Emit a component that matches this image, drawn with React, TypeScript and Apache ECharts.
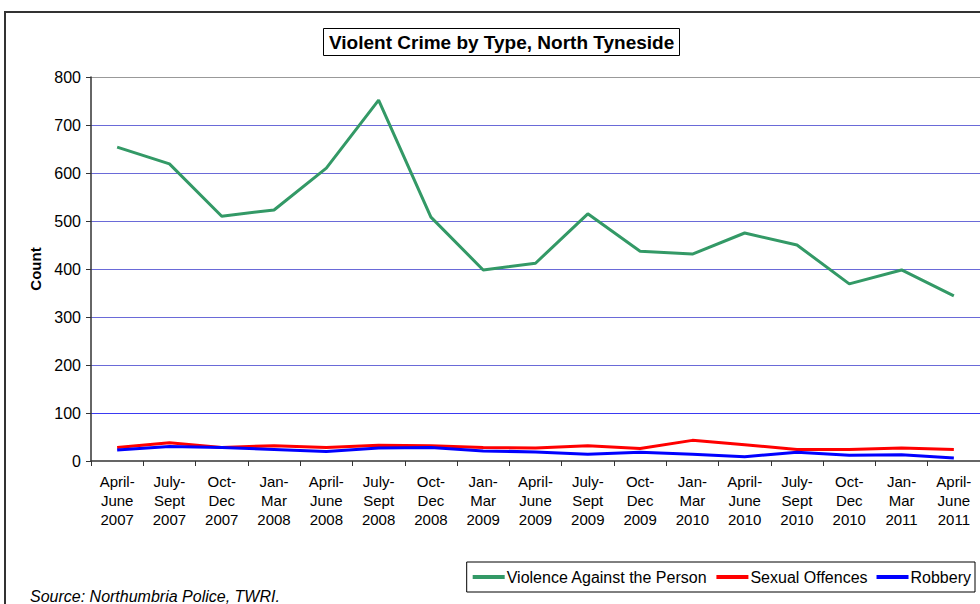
import React, { useEffect, useRef } from "react";
import * as echarts from "echarts";

const categories = [
  "April-\nJune\n2007", "July-\nSept\n2007", "Oct-\nDec\n2007", "Jan-\nMar\n2008",
  "April-\nJune\n2008", "July-\nSept\n2008", "Oct-\nDec\n2008", "Jan-\nMar\n2009",
  "April-\nJune\n2009", "July-\nSept\n2009", "Oct-\nDec\n2009", "Jan-\nMar\n2010",
  "April-\nJune\n2010", "July-\nSept\n2010", "Oct-\nDec\n2010", "Jan-\nMar\n2011",
  "April-\nJune\n2011",
];
const violence = [654, 619, 510, 523, 610, 752, 508, 398, 412, 515, 437, 431, 475, 450, 369, 398, 344];
const sexual = [28, 38, 28, 32, 28, 33, 32, 28, 27, 32, 26, 43, 34, 24, 24, 27, 24];
const robbery = [23, 30, 28, 24, 20, 27, 28, 21, 19, 14, 18, 14, 9, 18, 12, 13, 6];

const FONT = "'Liberation Sans', Arial, Helvetica, sans-serif";

export default function App() {
  const ref = useRef<HTMLDivElement>(null);
  useEffect(() => {
    const chart = echarts.init(ref.current!, null, { renderer: "svg" });
    chart.setOption({
      animation: false,
      backgroundColor: "#ffffff",
      textStyle: { fontFamily: FONT },
      title: {
        text: "Violent Crime by Type, North Tyneside",
        left: 323,
        top: 28,
        borderColor: "#000",
        borderWidth: 1,
        padding: [5, 6, 4, 6],
        textStyle: { fontFamily: FONT, fontSize: 19, fontWeight: "bold", color: "#000" },
      },
      graphic: [
        {
          type: "rect",
          shape: { x: 5, y: 12, width: 1100, height: 700 },
          style: { fill: "none", stroke: "#333", lineWidth: 2 },
          silent: true,
        },
        {
          type: "text",
          left: 30,
          top: 588,
          style: {
            text: "Source: Northumbria Police, TWRI.",
            font: "italic 16px " + FONT,
            fill: "#000",
          },
        },
      ],
      legend: {
        right: 5,
        top: 562,
        padding: [7, 4, 7, 6],
        borderColor: "#000",
        borderWidth: 1,
        itemWidth: 32,
        itemHeight: 4,
        itemGap: 9,
        icon: "rect",
        textStyle: { fontFamily: FONT, fontSize: 16, color: "#000", padding: [0, 0, 0, -3] },
        data: ["Violence Against the Person", "Sexual Offences", "Robbery"],
      },
      grid: { left: 91, top: 77, width: 890, height: 384 },
      xAxis: {
        type: "category",
        data: categories,
        boundaryGap: true,
        axisLine: { lineStyle: { color: "#333", width: 1.5 } },
        axisTick: { show: true, length: 5, lineStyle: { color: "#333" }, alignWithLabel: false },
        axisLabel: { fontFamily: FONT, fontSize: 15, color: "#000", lineHeight: 19, margin: 11, interval: 0 },
      },
      yAxis: {
        type: "value",
        min: 0,
        max: 800,
        interval: 100,
        name: "Count",
        nameLocation: "middle",
        nameGap: 46,
        nameRotate: 90,
        nameTextStyle: { fontFamily: FONT, fontSize: 15, fontWeight: "bold", color: "#000" },
        axisLine: { show: true, lineStyle: { color: "#333", width: 1.5 } },
        axisTick: { show: true, length: 5, lineStyle: { color: "#333" } },
        axisLabel: { fontFamily: FONT, fontSize: 16, color: "#000", margin: 10 },
        splitLine: {
          show: true,
          lineStyle: {
            color: ["#ffffff", "#3a3af2", "#6a6ad8", "#6a6ad8", "#6a6ad8", "#6a6ad8", "#6a6ad8", "#6a6ad8", "#999999"],
            width: 1,
          },
        },
      },
      series: [
        {
          name: "Violence Against the Person",
          type: "line",
          data: violence,
          symbol: "none",
          color: "#339966",
          lineStyle: { width: 3, color: "#339966" },
        },
        {
          name: "Sexual Offences",
          type: "line",
          data: sexual,
          symbol: "none",
          color: "#ff0000",
          lineStyle: { width: 3, color: "#ff0000" },
        },
        {
          name: "Robbery",
          type: "line",
          data: robbery,
          symbol: "none",
          color: "#0000ff",
          lineStyle: { width: 3, color: "#0000ff" },
        },
      ],
    });
    return () => chart.dispose();
  }, []);
  return (
    <div
      ref={ref}
      style={{ position: "fixed", left: 0, top: 0, width: 980, height: 604 }}
    />
  );
}
